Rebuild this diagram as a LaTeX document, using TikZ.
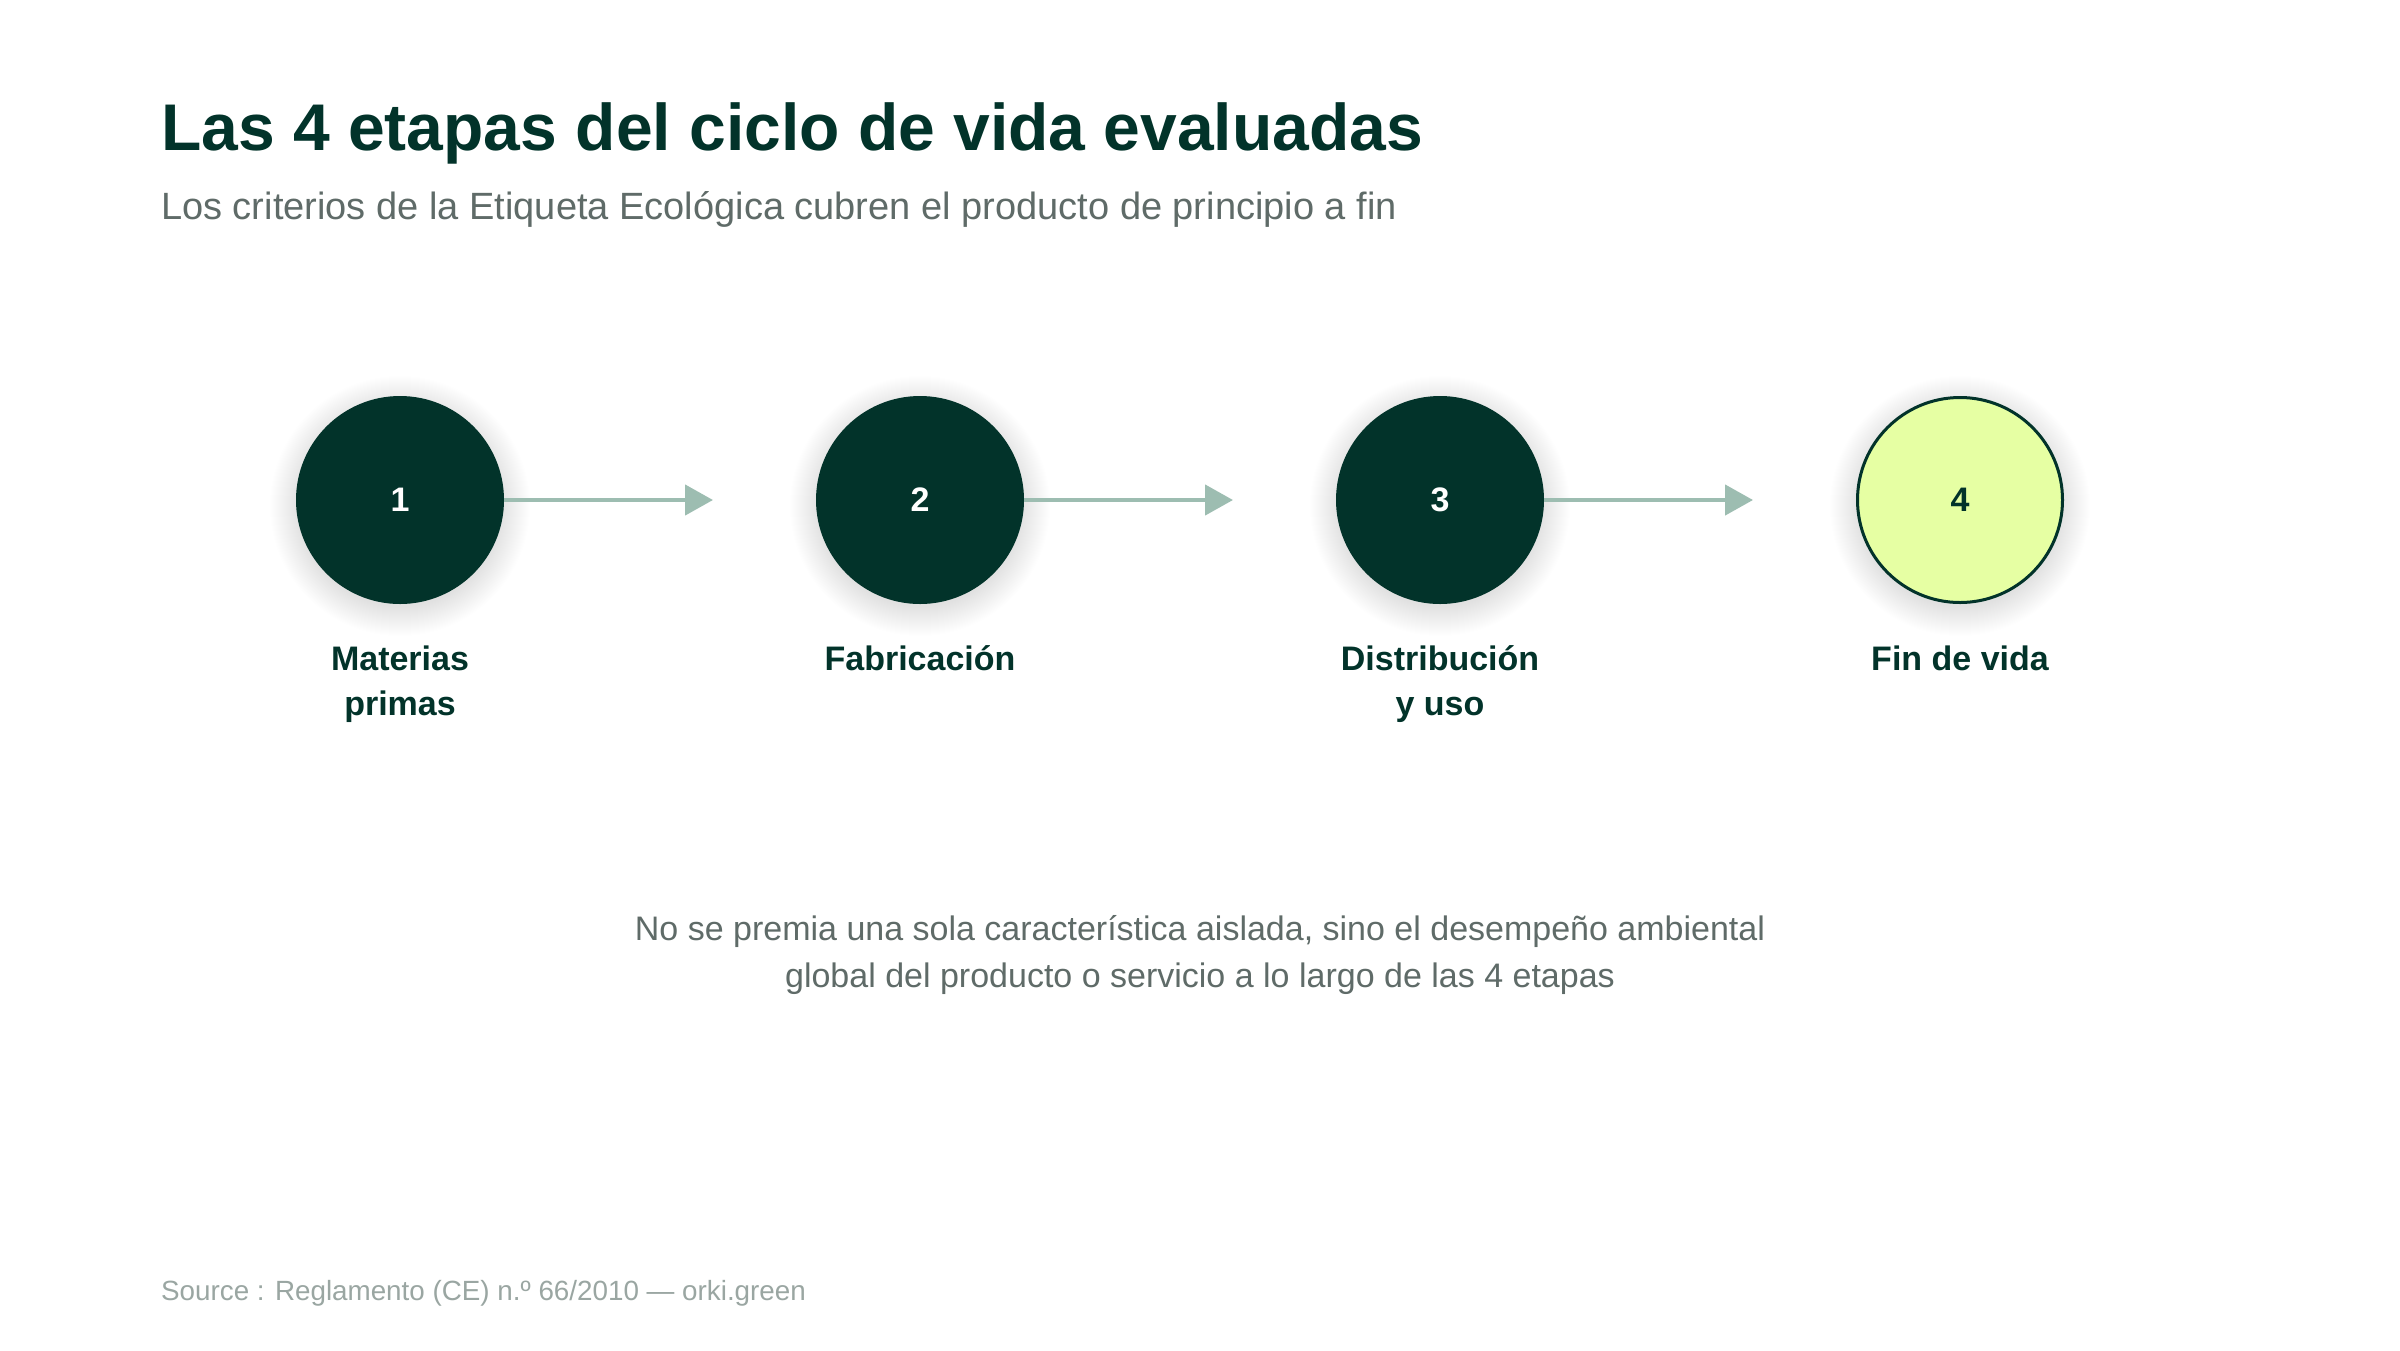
\documentclass[tikz,border=0pt]{standalone}
\usepackage{fontspec}
\setmainfont{Liberation Sans}
\usetikzlibrary{arrows.meta}
\definecolor{dkgreen}{HTML}{02332A}
\definecolor{ltgreen}{HTML}{E6FFA3}
\definecolor{arrowc}{HTML}{9DBDB1}
\definecolor{subgray}{HTML}{5F6B68}
\definecolor{srcgray}{HTML}{9AA6A2}
\tikzset{
  stagedark/.style={circle, fill=dkgreen, draw=none, minimum size=208pt, inner sep=0pt},
  stagelight/.style={circle, fill=ltgreen, draw=dkgreen, line width=3pt, minimum size=205pt, inner sep=0pt},
  numtxt/.style={font=\fontsize{34}{34}\selectfont\bfseries, inner sep=0pt},
  labeltxt/.style={font=\fontsize{34}{45}\selectfont\bfseries, text=dkgreen, align=center, inner sep=0pt},
  flow/.style={draw=arrowc, line width=4.5pt, -{Triangle[length=28pt,width=30pt]}},
}
\begin{document}
\begin{tikzpicture}[x=1pt,y=-1pt]
\useasboundingbox (0,0) rectangle (2400,1350);
\fill[white] (0,0) rectangle (2400,1350);

% title and subtitle
\node[anchor=base west, inner sep=0pt, text=dkgreen, font=\fontsize{66}{66}\selectfont\bfseries] (title) at (161,150) {Las 4 etapas del ciclo de vida evaluadas};
\node[anchor=base west, inner sep=0pt, text=subgray, font=\fontsize{38}{38}\selectfont] (subtitle) at (161,219) {Los criterios de la Etiqueta Ecológica cubren el producto de principio a fin};

% soft shadows
\foreach \cx in {400,920,1440,1960}{
  \foreach \i in {1,...,30}{
    \fill[black, opacity=0.0035] (\cx,506) circle (100+\i);
  }
}

% stages
\node[stagedark] (c1) at (400,500) {};
\node[stagedark] (c2) at (920,500) {};
\node[stagedark] (c3) at (1440,500) {};
\node[stagelight] (c4) at (1960,500) {};

\node[numtxt, text=white] (n1) at (c1) {1};
\node[numtxt, text=white] (n2) at (c2) {2};
\node[numtxt, text=white] (n3) at (c3) {3};
\node[numtxt, text=dkgreen] (n4) at (c4) {4};

% arrows
\coordinate (t1) at (713,500);
\coordinate (t2) at (1233,500);
\coordinate (t3) at (1753,500);
\draw[flow] (c1.east) -- (t1);
\draw[flow] (c2.east) -- (t2);
\draw[flow] (c3.east) -- (t3);

% labels (base anchor = last line)
\node[labeltxt, anchor=base] (l1) at (400,715) {Materias\\primas};
\node[labeltxt, anchor=base] (l2) at (920,670) {Fabricación};
\node[labeltxt, anchor=base] (l3) at (1440,715) {Distribución\\y uso};
\node[labeltxt, anchor=base] (l4) at (1960,670) {Fin de vida};

% bottom note
\node[anchor=base, inner sep=0pt, text=subgray, align=center, font=\fontsize{34}{47}\selectfont] (note) at (1200,987) {No se premia una sola característica aislada, sino el desempeño ambiental\\global del producto o servicio a lo largo de las 4 etapas};

% source
\node[anchor=base west, inner sep=0pt, text=srcgray, font=\fontsize{27.8}{28}\selectfont] (src) at (161,1300) {Source : Reglamento (CE) n.º 66/2010 — orki.green};
\end{tikzpicture}
\end{document}
